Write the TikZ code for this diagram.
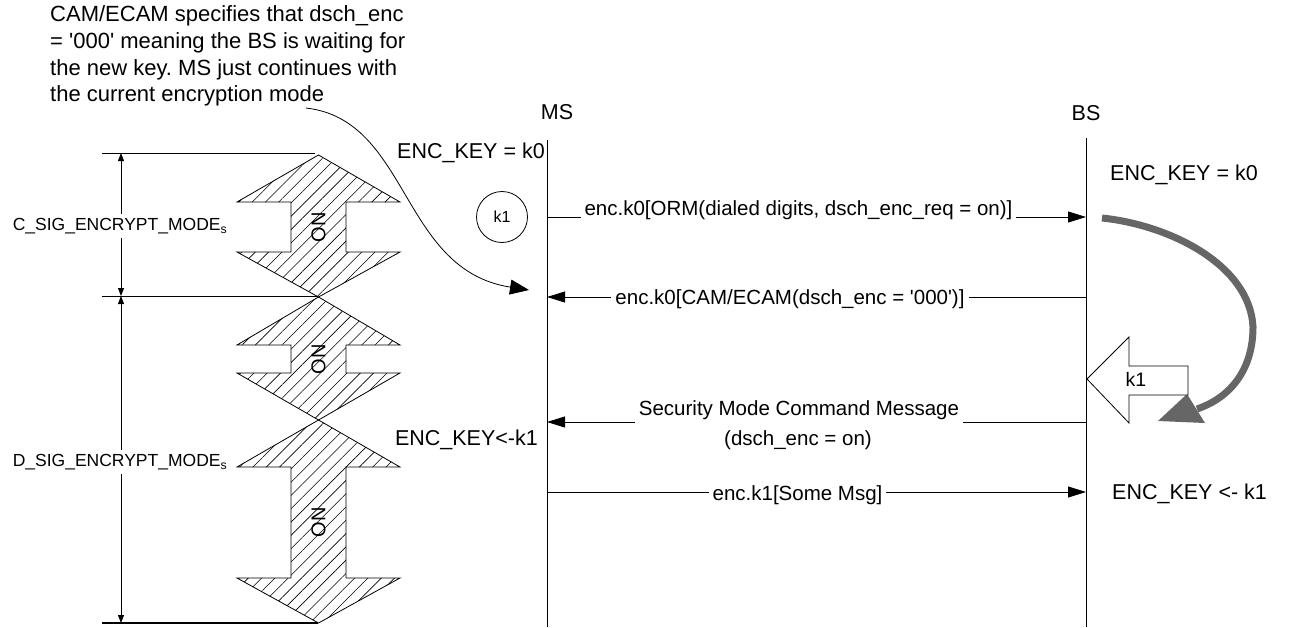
\documentclass[tikz,border=0pt]{standalone}
\usepackage{fontspec}
\setmainfont{Liberation Sans}
\usetikzlibrary{arrows.meta,patterns.meta}
\definecolor{arcgray}{RGB}{102,102,102}
\frenchspacing
\begin{document}
\begin{tikzpicture}[x=1pt,y=-1pt,
  lifeline/.style={line width=1pt},
  thinline/.style={line width=0.8pt},
  msg/.style={line width=0.8pt,-{Triangle[length=18pt 0,width=11pt 0]}},
  msglbl/.style={fill=white,inner xsep=4pt,inner ysep=2pt,font=\fontsize{20.5}{24}\selectfont,anchor=base},
  statelbl/.style={font=\fontsize{21.5}{26}\selectfont,inner sep=0pt},
  hatcharrow/.style={draw,line width=0.8pt,pattern={Lines[angle=45,distance=9.4pt,line width=0.6pt]}},
  onlbl/.style={rotate=90,font=\fontsize{20}{24}\selectfont,inner sep=0pt},
  dimline/.style={line width=0.8pt,{Triangle[length=8pt 0,width=6pt 0]}-{Triangle[length=8pt 0,width=6pt 0]}},
  dimlbl/.style={fill=white,font=\fontsize{17.5}{21}\selectfont,inner xsep=1pt,inner ysep=4pt,anchor=base},
  notearrow/.style={line width=0.8pt,-{Triangle[length=19pt 0,width=15pt 0]}},
  blockarrow/.style={draw,fill=white,line width=0.8pt},
  keyarc/.style={draw=arcgray,line width=7pt},
  keyhead/.style={fill=arcgray}
]
\useasboundingbox (0,0) rectangle (1290,627);

% annotation
\node[anchor=north west,align=left,inner sep=0pt,font=\fontsize{22}{26.7}\selectfont] (note) at (50,5.5)
  {CAM/ECAM specifies that dsch\_enc\\= \textquotesingle 000\textquotesingle{} meaning the BS is waiting for\\the new key. MS just continues with\\the current encryption mode};
\coordinate (notestart) at (306,108);
\coordinate (notetip) at (529,290);
\draw[notearrow] (notestart) .. controls (410,120) and (400,270) .. (notetip);

% lifelines
\node[statelbl,anchor=base] (MS) at (557,119) {MS};
\node[statelbl,anchor=base] (BS) at (1086,120) {BS};
\coordinate (mstop) at (547,140);
\coordinate (msbot) at (547,627);
\coordinate (bstop) at (1086,138);
\coordinate (bsbot) at (1086,627);
\draw[lifeline] (mstop) -- (msbot);
\draw[lifeline] (bstop) -- (bsbot);

% states
\node[statelbl,anchor=base east] (k0ms) at (545,158) {ENC\_KEY = k0};
\node[statelbl,anchor=base west] (k0bs) at (1110,180.7) {ENC\_KEY = k0};
\node[statelbl,anchor=base east] (k1ms) at (538,445) {ENC\_KEY<-k1};
\node[statelbl,anchor=base west] (k1bs) at (1112,499.3) {ENC\_KEY <- k1};

\node[circle,draw,line width=0.8pt,minimum size=51pt,inner sep=0pt,font=\fontsize{16}{19}\selectfont] (k1c) at (502,217) {k1};

% messages
\coordinate (ms1) at (547,217);  \coordinate (bs1) at (1086,217);
\coordinate (ms2) at (547,297);  \coordinate (bs2) at (1086,297);
\coordinate (ms3) at (547,422);  \coordinate (bs3) at (1086,422);
\coordinate (ms4) at (547,492);  \coordinate (bs4) at (1086,492);
\draw[msg] (ms1) -- (bs1);
\node[msglbl] (m1) at (798.5,215) {enc.k0[ORM(dialed digits, dsch\_enc\_req = on)]};
\draw[msg] (bs2) -- (ms2);
\node[msglbl] (m2) at (790,304) {enc.k0[CAM/ECAM(dsch\_enc = \textquotesingle 000\textquotesingle)]};
\draw[msg] (bs3) -- (ms3);
\node[msglbl,text depth=8pt] (m3a) at (799,415) {Security Mode Command Message};
\node[msglbl,fill=none] (m3b) at (798,445) {(dsch\_enc = on)};
\draw[msg] (ms4) -- (bs4);
\node[msglbl] (m4) at (797.5,500) {enc.k1[Some Msg]};

% key change arc and k1 block arrow
\coordinate (arcstart) at (1102,218);
\coordinate (arcend) at (1197,409);
\coordinate (arctip) at (1158,421);
\draw[keyarc] (arcstart) .. controls (1170,225) and (1250,265) .. (1253,327)
  .. controls (1253,368) and (1232,397) .. (arcend);
\fill[keyhead] (arctip) -- (1187,394) -- (1205,423) -- cycle;
\draw[blockarrow] (1087,379) -- (1129,337) -- (1129,366) -- (1188,366) -- (1188,395)
  -- (1129,395) -- (1129,423) -- cycle;
\node[anchor=base,inner sep=0pt,font=\fontsize{19.5}{23}\selectfont] (k1b) at (1136,386.7) {k1};

% hatched double arrows
\draw[hatcharrow] (318.5,155) -- (400,202) -- (346,202) -- (346,252) -- (400,252) -- (318.5,297)
  -- (237,252) -- (291,252) -- (291,202) -- (237,202) -- cycle;
\draw[hatcharrow] (318.5,297) -- (400,345) -- (346,345) -- (346,373) -- (400,373) -- (318.5,420)
  -- (237,373) -- (291,373) -- (291,345) -- (237,345) -- cycle;
\draw[hatcharrow] (318.5,420) -- (400,467) -- (346,467) -- (346,578) -- (400,578) -- (318.5,623)
  -- (237,578) -- (291,578) -- (291,467) -- (237,467) -- cycle;
\node[onlbl] (on1) at (318.5,227) {ON};
\node[onlbl] (on2) at (318.5,359) {ON};
\node[onlbl] (on3) at (318.5,522.5) {ON};

% dimensions
\coordinate (d0) at (121,153);
\coordinate (d1) at (121,296);
\coordinate (d2) at (121,623);
\coordinate (h0l) at (102,153); \coordinate (h0r) at (315,153);
\coordinate (h1l) at (102,296); \coordinate (h1r) at (318,296);
\coordinate (h2l) at (102,623); \coordinate (h2r) at (318,623);
\draw[thinline] (h0l) -- (h0r);
\draw[thinline] (h1l) -- (h1r);
\draw[line width=1.6pt] (h2l) -- (h2r);
\draw[dimline] (d0) -- (d1);
\draw[dimline] (d1) -- (d2);
\node[dimlbl] (cdim) at (120,230.7) {C\_SIG\_ENCRYPT\_MODE\textsubscript{s}};
\node[dimlbl] (ddim) at (120,466.7) {D\_SIG\_ENCRYPT\_MODE\textsubscript{s}};
\end{tikzpicture}
\end{document}
